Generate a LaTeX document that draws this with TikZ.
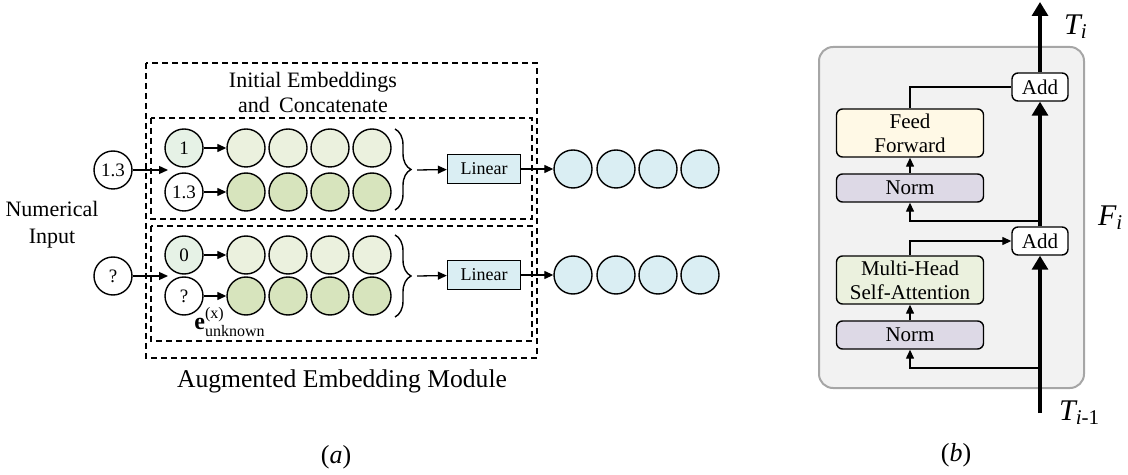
\documentclass[tikz,border=0pt]{standalone}
\usepackage{amsmath}
\usepackage{fontspec}
\setmainfont{Liberation Serif}
\usepackage{tikz}
\usetikzlibrary{positioning}
\usetikzlibrary{arrows.meta}
\usetikzlibrary{decorations.pathreplacing}

\definecolor{idcol}{HTML}{E6F2E6}
\definecolor{embA}{HTML}{EBF1DE}
\definecolor{embB}{HTML}{D7E4BD}
\definecolor{outcol}{HTML}{DAEEF3}
\definecolor{ffcol}{HTML}{FFF9E6}
\definecolor{normcol}{HTML}{DDD9E6}
\definecolor{blockcol}{HTML}{F2F2F2}
\definecolor{blockedge}{HTML}{A6A6A6}

\begin{document}
\begin{tikzpicture}[
    x=0.5pt, y=-0.5pt,
    emb/.style={draw,circle,minimum size=19pt,inner sep=0pt,line width=0.7pt,font=\fontsize{9.5}{10}\selectfont},
    linbox/.style={draw,fill=outcol,minimum width=36.5pt,minimum height=14.5pt,inner sep=0pt,line width=0.7pt,font=\fontsize{9}{10}\selectfont},
    frame/.style={draw,dash pattern=on 3pt off 2pt,line width=0.65pt},
    arr/.style={-{Triangle[length=4.5pt,width=4pt]},line width=0.65pt},
    bigarr/.style={-{Triangle[length=7pt,width=8pt]},line width=1.6pt},
    blk/.style={draw,rounded corners=3pt,minimum width=73.5pt,minimum height=14pt,inner sep=0pt,align=center,line width=0.7pt,font=\fontsize{10.5}{12}\selectfont},
    addbox/.style={draw,fill=white,rounded corners=3pt,minimum width=28pt,minimum height=14pt,inner sep=0pt,line width=0.7pt,font=\fontsize{10.5}{12}\selectfont}
    ]
    \useasboundingbox (0,0) rectangle (1128,475);

    % (a) augmented embedding module
    \draw[frame] (146,63) rectangle (537,358);
    \draw[frame] (151,118) rectangle (532,219);
    \draw[frame] (151,226) rectangle (532,341);
    \node[align=center,font=\fontsize{11}{12.5}\selectfont] (title) at (313,92) {Initial Embeddings\\and\, Concatenate};

    \node[emb] (x1) at (113,170) {1.3};
    \node[emb] (x2) at (113,276) {?};
    \coordinate (in1) at (168,170);
    \coordinate (in2) at (168,276);
    \node[align=center,font=\fontsize{11}{13.5}\selectfont] (numin) at (52,225) {Numerical\\Input};

    \node[emb,fill=idcol] (m1) at (184,148) {1};
    \node[emb] (v1) at (184,192) {1.3};
    \node[emb,fill=idcol] (m2) at (184,255) {0};
    \node[emb] (v2) at (184,296) {?};
    \foreach \i/\x in {1/246,2/288,3/330,4/372} {
        \node[emb,fill=embA] (ea\i) at (\x,148) {};
        \node[emb,fill=embB] (eb\i) at (\x,192) {};
        \node[emb,fill=embA] (ec\i) at (\x,255) {};
        \node[emb,fill=embB] (ed\i) at (\x,296) {};
    }
    \node[font=\fontsize{12}{13}\selectfont] (eunk) at (230,322) {$\mathbf{e}^{\text{(x)}}_{\text{unknown}}$};

    \draw[decorate,decoration={brace,amplitude=8pt},line width=0.7pt] (395,129) -- (395,210);
    \draw[decorate,decoration={brace,amplitude=8pt},line width=0.7pt] (395,235) -- (395,317);
    \coordinate (b1) at (417,170);
    \coordinate (b2) at (417,276);

    \node[linbox] (lin1) at (484,169) {Linear};
    \node[linbox] (lin2) at (484,275) {Linear};
    \foreach \i/\x in {1/573,2/616,3/658,4/700} {
        \node[emb,fill=outcol] (oa\i) at (\x,169) {};
        \node[emb,fill=outcol] (ob\i) at (\x,275) {};
    }

    \path (x1) edge[arr] (in1)
    (x2) edge[arr] (in2)
    (m1) edge[arr] (ea1)
    (v1) edge[arr] (eb1)
    (m2) edge[arr] (ec1)
    (v2) edge[arr] (ed1)
    (b1) edge[arr] (lin1)
    (b2) edge[arr] (lin2)
    (lin1) edge[arr] (oa1)
    (lin2) edge[arr] (ob1)
    ;

    \node[font=\fontsize{12.8}{14}\selectfont] (cap) at (342,381) {Augmented Embedding Module};
    \node[font=\fontsize{13}{14}\selectfont] (lbla) at (336,457) {(\textit{a})};

    % (b) transformer block
    \draw[blockedge,fill=blockcol,line width=1pt,rounded corners=7pt] (819,47) rectangle (1084,388);

    \node[addbox] (add1) at (1040,87) {Add};
    \node[addbox] (add2) at (1040,241) {Add};
    \node[blk,fill=ffcol,minimum height=24pt] (ff) at (910,133) {Feed\\Forward};
    \node[blk,fill=normcol] (norm1) at (910,188) {Norm};
    \node[blk,fill=embA,minimum height=24pt] (mhsa) at (910,280) {Multi-Head\\Self-Attention};
    \node[blk,fill=normcol] (norm2) at (910,335) {Norm};

    \coordinate (tin) at (1040,413);
    \coordinate (tout) at (1040,2);
    \coordinate (br1) at (1040,368);
    \coordinate (br2) at (1040,221);

    \path (tin) edge[bigarr] (add2)
    (add2) edge[bigarr] (add1)
    (add1) edge[bigarr] (tout)
    (norm2) edge[arr] (mhsa)
    (norm1) edge[arr] (ff)
    ;
    \draw[arr] (br1) -| (norm2.south);
    \draw[arr] (br2) -| (norm1.south);
    \draw[arr] (mhsa.north) |- (add2.west);
    \draw[line width=0.65pt] (ff.north) |- (add1.west);

    \node[anchor=west,font=\fontsize{15}{16}\selectfont] (ti) at (1057,27) {$\textit{T}_{\textit{i}}$};
    \node[anchor=west,font=\fontsize{15}{16}\selectfont] (tim) at (1052,413) {$\textit{T}_{\textit{i}\text{-1}}$};
    \node[anchor=west,font=\fontsize{15}{16}\selectfont] (fi) at (1091,218) {$\textit{F}_{\textit{i}}$};
    \node[font=\fontsize{13}{14}\selectfont] (lblb) at (956,455) {(\textit{b})};

  \end{tikzpicture}
\end{document}
